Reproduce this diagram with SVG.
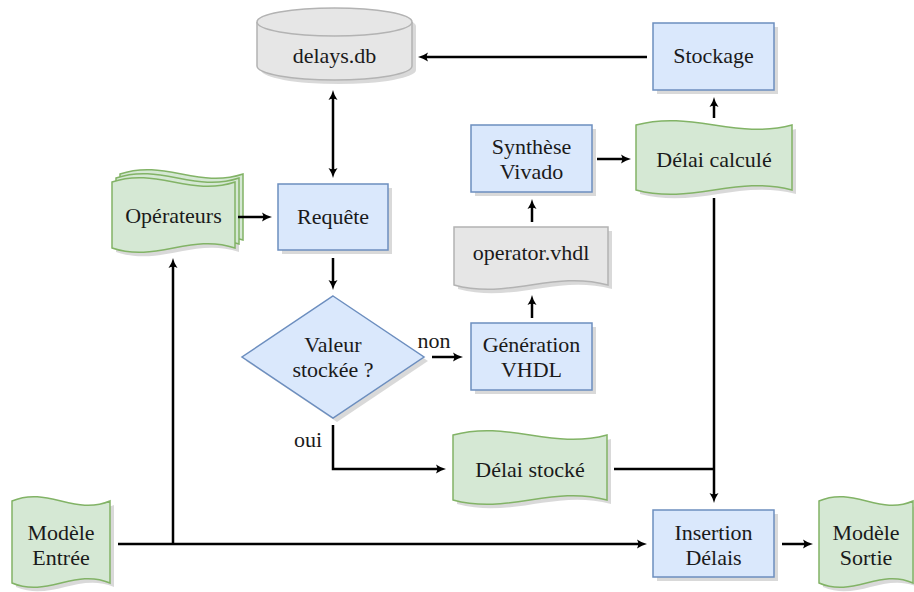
<svg xmlns="http://www.w3.org/2000/svg" width="914" height="592" viewBox="0 0 914 592">
<defs>
<style>
.t{font-family:"Liberation Serif","Times New Roman",serif;font-size:22px;fill:#1a1a1a;text-anchor:middle}
.blue{fill:#dae8fc;stroke:#6c8ebf;stroke-width:1.5}
.green{fill:#d5e8d4;stroke:#82b366;stroke-width:1.5}
.gray{fill:#e6e6e6;stroke:#b3b3b3;stroke-width:1.5}
.sh{fill:#000;opacity:0.15}
.c{fill:none;stroke:#000;stroke-width:2.5}
.ah{fill:#000}
</style>
<path id="ahd" d="M-10,-4.5 Q-5,-1 0,0 Q-5,1 -10,4.5 Q-7.5,0 -10,-4.5 Z"/>
</defs>

<g id="delays-db">
<path class="sh" d="M261,26 L261,70 A77.5,14 0 0 0 416,70 L416,26 A77.5,14 0 0 0 261,26 Z"/>
<path class="gray" d="M257,22 L257,66 A77.5,14 0 0 0 412,66 L412,22 A77.5,14 0 0 0 257,22 Z"/>
<path class="gray" d="M257,22 A77.5,14 0 0 0 412,22"/>
<text class="t" x="334.5" y="63">delays.db</text>
</g>

<g id="stockage">
<rect class="sh" x="657" y="27" width="121" height="67"/>
<rect class="blue" x="653" y="23" width="121" height="67"/>
<text class="t" x="713.5" y="63">Stockage</text>
</g>

<g id="operateurs">
<path class="sh" d="M116,186 C160.3,171 194.7,201 239,186 L239,252 C194.7,237 160.3,267 116,252 Z"/>
<path class="green" d="M120,174 C164.3,159 198.7,189 243,174 L243,240 C198.7,225 164.3,255 120,240 Z"/>
<path class="green" d="M116,178 C160.3,163 194.7,193 239,178 L239,244 C194.7,229 160.3,259 116,244 Z"/>
<path class="green" d="M112,182 C156.3,167 190.7,197 235,182 L235,248 C190.7,233 156.3,263 112,248 Z"/>
<text class="t" x="173.5" y="223">Opérateurs</text>
</g>

<g id="requete">
<rect class="sh" x="282" y="188" width="110" height="66"/>
<rect class="blue" x="278" y="184" width="110" height="66"/>
<text class="t" x="333" y="224">Requête</text>
</g>

<g id="valeur-stockee">
<path class="sh" d="M337,300 L428,361 L337,422 L246,361 Z"/>
<path class="blue" d="M333,296 L424,357 L333,418 L242,357 Z"/>
<text class="t" x="333" y="352">Valeur</text>
<text class="t" x="333" y="377">stockée ?</text>
</g>

<g id="generation-vhdl">
<rect class="sh" x="475" y="327" width="121" height="67"/>
<rect class="blue" x="471" y="323" width="121" height="67"/>
<text class="t" x="531.5" y="352">Génération</text>
<text class="t" x="531.5" y="377">VHDL</text>
</g>

<g id="operator-vhdl">
<path class="sh" d="M458,231 L612,231 L612,289 C556.6,274 513.4,304 458,289 Z"/>
<path class="gray" d="M454,227 L608,227 L608,285 C552.6,270 509.4,300 454,285 Z"/>
<text class="t" x="531" y="260">operator.vhdl</text>
</g>

<g id="synthese-vivado">
<rect class="sh" x="475" y="129" width="121" height="67"/>
<rect class="blue" x="471" y="125" width="121" height="67"/>
<text class="t" x="531.5" y="154">Synthèse</text>
<text class="t" x="531.5" y="179">Vivado</text>
</g>

<g id="delai-calcule">
<path class="sh" d="M640,129 C696.2,114 739.8,144 796,129 L796,194 C739.8,179 696.2,209 640,194 Z"/>
<path class="green" d="M636,125 C692.2,110 735.8,140 792,125 L792,190 C735.8,175 692.2,205 636,190 Z"/>
<text class="t" x="714" y="167">Délai calculé</text>
</g>

<g id="delai-stocke">
<path class="sh" d="M457,439 C512.4,424 555.6,454 611,439 L611,504 C555.6,489 512.4,519 457,504 Z"/>
<path class="green" d="M453,435 C508.4,420 551.6,450 607,435 L607,500 C551.6,485 508.4,515 453,500 Z"/>
<text class="t" x="530" y="477">Délai stocké</text>
</g>

<g id="modele-entree">
<path class="sh" d="M16,505 C51.3,490 78.7,520 114,505 L114,587 C78.7,572 51.3,602 16,587 Z"/>
<path class="green" d="M12,501 C47.3,486 74.7,516 110,501 L110,583 C74.7,568 47.3,598 12,583 Z"/>
<text class="t" x="61" y="540">Modèle</text>
<text class="t" x="61" y="565">Entrée</text>
</g>

<g id="insertion-delais">
<rect class="sh" x="657" y="514" width="121" height="67"/>
<rect class="blue" x="653" y="510" width="121" height="67"/>
<text class="t" x="713.5" y="540">Insertion</text>
<text class="t" x="713.5" y="565">Délais</text>
</g>

<g id="modele-sortie">
<path class="sh" d="M823,505 C857.2,490 883.8,520 918,505 L918,587 C883.8,572 857.2,602 823,587 Z"/>
<path class="green" d="M819,501 C853.2,486 879.8,516 913,501 L913,583 C879.8,568 853.2,598 819,583 Z"/>
<text class="t" x="866" y="540">Modèle</text>
<text class="t" x="866" y="565">Sortie</text>
</g>

<g id="connectors">
<path class="c" d="M647,57 L423,57"/>
<use href="#ahd" class="ah" transform="translate(418,57) rotate(180)"/>
<path class="c" d="M333,95 L333,173"/>
<use href="#ahd" class="ah" transform="translate(333,90) rotate(-90)"/>
<use href="#ahd" class="ah" transform="translate(333,178) rotate(90)"/>
<path class="c" d="M238,217 L267,217"/>
<use href="#ahd" class="ah" transform="translate(272,217)"/>
<path class="c" d="M333,258 L333,285"/>
<use href="#ahd" class="ah" transform="translate(333,290) rotate(90)"/>
<path class="c" d="M432,357 L458,357"/>
<use href="#ahd" class="ah" transform="translate(463,357)"/>
<path class="c" d="M532,318 L532,300"/>
<use href="#ahd" class="ah" transform="translate(532,295) rotate(-90)"/>
<path class="c" d="M532,222 L532,204"/>
<use href="#ahd" class="ah" transform="translate(532,199) rotate(-90)"/>
<path class="c" d="M597,159 L626,159"/>
<use href="#ahd" class="ah" transform="translate(631,159)"/>
<path class="c" d="M714,118 L714,102"/>
<use href="#ahd" class="ah" transform="translate(714,97) rotate(-90)"/>
<path class="c" d="M714,198 L714,498"/>
<use href="#ahd" class="ah" transform="translate(714,503) rotate(90)"/>
<path class="c" d="M614,469 L714,469"/>
<path class="c" d="M333,425 L333,469 L441,469"/>
<use href="#ahd" class="ah" transform="translate(446,469)"/>
<path class="c" d="M118,544 L642,544"/>
<use href="#ahd" class="ah" transform="translate(647,544)"/>
<path class="c" d="M173,544 L173,263"/>
<use href="#ahd" class="ah" transform="translate(173,258) rotate(-90)"/>
<path class="c" d="M782,544 L808,544"/>
<use href="#ahd" class="ah" transform="translate(813,544)"/>
<text class="t" x="434" y="348">non</text>
<text class="t" x="308" y="447">oui</text>
</g>
</svg>
